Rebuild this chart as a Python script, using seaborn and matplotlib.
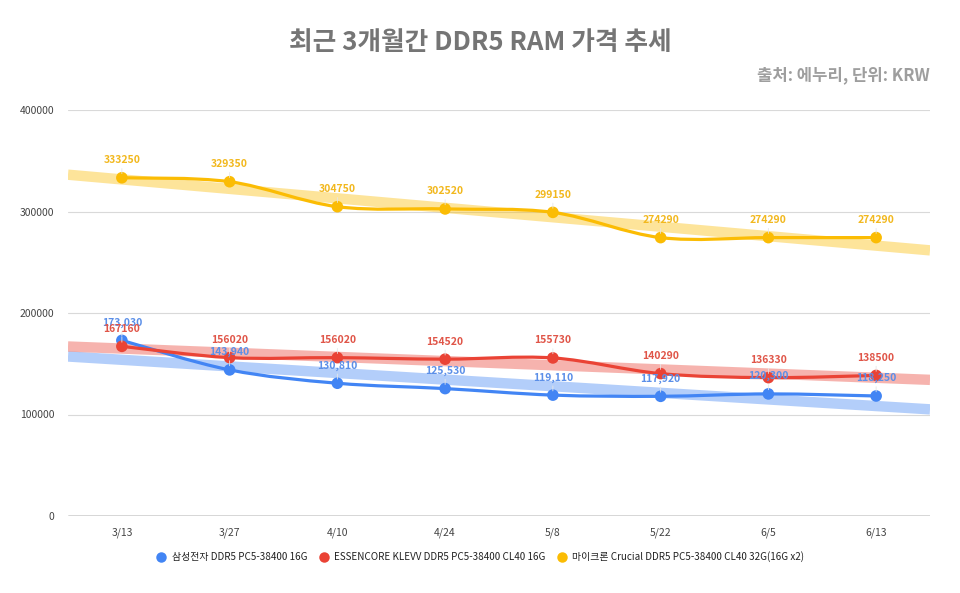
import numpy as np
import pandas as pd
import matplotlib
matplotlib.use("Agg")
import matplotlib.pyplot as plt
from matplotlib.path import Path
from matplotlib.patches import PathPatch
import seaborn as sns

dates = ["3/13", "3/27", "4/10", "4/24", "5/8", "5/22", "6/5", "6/13"]
samsung = [173030, 143940, 130810, 125530, 119110, 117920, 120300, 118250]
essencore = [167160, 156020, 156020, 154520, 155730, 140290, 136330, 138500]
crucial = [333250, 329350, 304750, 302520, 299150, 274290, 274290, 274290]
series_names = ["삼성전자 DDR5 PC5-38400 16G",
                "ESSENCORE KLEVV DDR5 PC5-38400 CL40 16G",
                "마이크론 Crucial DDR5 PC5-38400 CL40 32G(16G x2)"]
yticks = [0, 100000, 200000, 300000, 400000]
title = "최근 3개월간 DDR5 RAM 가격 추세"
subtitle = "출처: 에누리, 단위: KRW"

colors = ["#4285F4", "#EA4335", "#FBBC04"]
label_colors = ["#5B8FE8", "#E05548", "#F2B81E"]
comma_fmt = [True, False, False]

sns.set_theme(style="white")
FAM = ["Noto Sans CJK KR", "DejaVu Sans"]
plt.rcParams["font.family"] = FAM

fig = plt.figure(figsize=(9.6, 5.93), dpi=100)
ax = fig.add_axes([68/960, 1-516/593, (930-68)/960, (516-110)/593])

x = np.arange(len(dates))
rows = []
for name, vals in zip(series_names, [samsung, essencore, crucial]):
    for d, i, v in zip(dates, x, vals):
        rows.append({"series": name, "idx": i, "date": d, "price": v})
df = pd.DataFrame(rows)

for yt in yticks[1:]:
    ax.axhline(yt, color="#d9d9d9", lw=0.8, zorder=0)
ax.axhline(0, color="#333333", lw=1.0, zorder=1)

def smooth_path(xs, ys):
    xs = np.asarray(xs, float); ys = np.asarray(ys, float)
    n = len(xs)
    verts = [(xs[0], ys[0])]
    codes = [Path.MOVETO]
    for i in range(n - 1):
        p0 = np.array([xs[max(i-1, 0)], ys[max(i-1, 0)]])
        p1 = np.array([xs[i], ys[i]])
        p2 = np.array([xs[i+1], ys[i+1]])
        p3 = np.array([xs[min(i+2, n-1)], ys[min(i+2, n-1)]])
        c1 = p1 + (p2 - p0) / 6.0
        c2 = p2 - (p3 - p1) / 6.0
        verts += [tuple(c1), tuple(c2), tuple(p2)]
        codes += [Path.CURVE4] * 3
    return Path(verts, codes)

xr = np.array([-0.5, len(dates) - 0.5])
for k, (name, vals) in enumerate(zip(series_names, [samsung, essencore, crucial])):
    c = colors[k]
    m, b = np.polyfit(x, vals, 1)
    ax.plot(xr, m * xr + b, color=c, lw=7.5, alpha=0.4, solid_capstyle="butt", zorder=2)
    ax.add_patch(PathPatch(smooth_path(x, vals), fill=False, edgecolor=c, lw=2.3, zorder=3 + k))

sns.scatterplot(data=df, x="idx", y="price", hue="series", palette=colors,
                s=70, edgecolor="none", ax=ax, zorder=6, legend=True)

for k, vals in enumerate([samsung, essencore, crucial]):
    for i, v in zip(x, vals):
        lab = f"{v:,}" if comma_fmt[k] else f"{v}"
        ax.annotate(lab, (i, v), xytext=(0, 9), textcoords="offset points",
                    ha="center", va="bottom", fontsize=7.5, color=label_colors[k],
                    fontweight="bold", family=FAM, zorder=7,
                    arrowprops=dict(arrowstyle="-", color="#e6e6e6", lw=0.6,
                                    shrinkA=0, shrinkB=3))

ax.set_xlim(-0.5, len(dates) - 0.5)
ax.set_ylim(0, 400000)
ax.set_xticks(x)
ax.set_xticklabels(dates)
ax.set_yticks(yticks)
ax.set_yticklabels([str(v) for v in yticks])
ax.tick_params(axis="both", length=0, labelsize=7.5, colors="#444444")
ax.tick_params(axis="x", pad=8)
ax.tick_params(axis="y", pad=10)
ax.set_xlabel("")
ax.set_ylabel("")
for s in ax.spines.values():
    s.set_visible(False)

handles, labels = ax.get_legend_handles_labels()
ax.legend_.remove()
leg = fig.legend(handles, labels, loc="center", bbox_to_anchor=(0.5, 1 - 557/593),
                 ncol=3, frameon=False, fontsize=7.1, handletextpad=0.5,
                 columnspacing=1.0, markerscale=0.9, handlelength=1.2)
for t in leg.get_texts():
    t.set_color("#222222")

fig.text(0.5, 1 - 42/593, title, ha="center", va="center", fontsize=18.5,
         fontweight="bold", color="#757575", family=FAM)
fig.text(930/960, 1 - 75/593, subtitle, ha="right", va="center", fontsize=12,
         fontweight="bold", color="#9e9e9e", family=FAM)

fig.savefig("out.png", dpi=100, facecolor="white")
